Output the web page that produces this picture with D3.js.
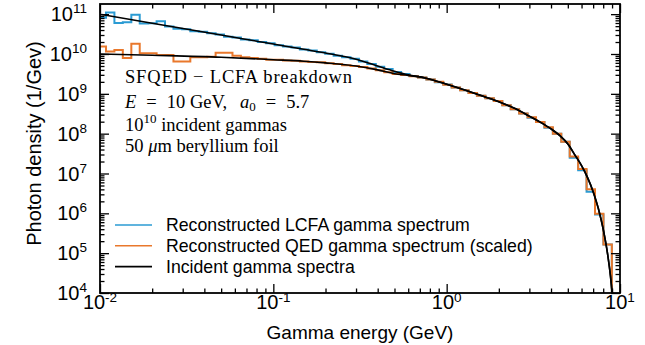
<!DOCTYPE html>
<html>
<head>
<meta charset="utf-8">
<script src="https://cdn.jsdelivr.net/npm/d3@7"></script>
<style>
  html, body { margin: 0; padding: 0; background: #fff; }
  svg { display: block; }
  .tick-label { font-family: "Liberation Sans", Arial, sans-serif; fill: #000; }
  .note { font-family: "Liberation Serif", "Times New Roman", serif; font-size: 18.5px; fill: #000; }
  .legend text { font-family: "Liberation Sans", Arial, sans-serif; font-size: 17.7px; fill: #000; }
</style>
</head>
<body>
<div id="chart"></div>
<script>
// Histogram bin edges (GeV), log spaced, read from the step positions
const binEdges = [
  0.00968, 0.01083, 0.01211, 0.01354, 0.01516, 0.01695, 0.01896, 0.02121, 0.02372, 0.02653,
  0.02968, 0.03319, 0.03713, 0.04153, 0.04645, 0.05195, 0.05811, 0.06500, 0.07270, 0.08132,
  0.09095, 0.1017, 0.1138, 0.1273, 0.1423, 0.1592, 0.1781, 0.1992, 0.2228, 0.2492,
  0.2787, 0.3117, 0.3487, 0.3900, 0.4362, 0.4879, 0.5458, 0.6105, 0.6828, 0.7637,
  0.8542, 0.9555, 1.069, 1.195, 1.337, 1.495, 1.673, 1.871, 2.093, 2.341,
  2.618, 2.929, 3.276, 3.664, 4.099, 4.584, 5.128, 5.735, 6.415, 7.175,
  8.025, 8.974, 10.04
];

// Reconstructed LCFA gamma spectrum (1/GeV), one value per bin
const lcfaRecon = [
  8.1e10, 1.1e11, 6.0e10, 6.3e10, 9.7e10, 5.8e10, 5.9e10, 6.6e10, 4.9e10, 4.3e10,
  4.2e10, 3.7e10, 3.6e10, 3.3e10, 3.1e10, 2.7e10, 2.6e10, 2.3e10, 2.2e10, 2.0e10,
  1.85e10, 1.66e10, 1.55e10, 1.45e10, 1.29e10, 1.23e10, 1.10e10, 1.02e10, 9.1e9, 8.3e9,
  7.6e9, 6.5e9, 5.6e9, 4.8e9, 4.2e9, 3.55e9, 3.16e9, 2.8e9, 2.57e9, 2.3e9,
  1.95e9, 1.72e9, 1.45e9, 1.23e9, 1.05e9, 8.9e8, 7.8e8, 6.6e8, 5.2e8, 4.1e8,
  3.2e8, 2.5e8, 1.95e8, 1.4e8, 1.0e8, 6.3e7, 2.5e7, 1.2e7, 3.5e6, 9.3e5,
  1.66e5, 0
];

// Reconstructed QED gamma spectrum (scaled), one value per bin
const qedRecon = [
  1.55e10, 1.15e10, 1.26e10, 7.9e9, 1.8e10, 1.05e10, 1.05e10, 9.5e9, 9.5e9, 6.5e9,
  6.5e9, 8.3e9, 8.3e9, 8.5e9, 1.07e10, 1.07e10, 9.1e9, 8.3e9, 7.9e9, 7.6e9,
  7.2e9, 7.2e9, 6.9e9, 6.8e9, 6.5e9, 6.3e9, 6.2e9, 5.9e9, 5.6e9, 5.25e9,
  5.0e9, 4.7e9, 4.3e9, 3.9e9, 3.5e9, 3.16e9, 2.95e9, 2.75e9, 2.57e9, 2.3e9,
  2.0e9, 1.7e9, 1.45e9, 1.23e9, 1.05e9, 8.9e8, 7.8e8, 6.6e8, 5.2e8, 4.1e8,
  3.2e8, 2.6e8, 1.95e8, 1.45e8, 1.0e8, 6.3e7, 2.66e7, 1.29e7, 4.0e6, 9.7e5,
  1.66e5, 0
];

// Incident gamma spectra, sampled along the black curves
const incidentEnergy = [
  0.01, 0.02, 0.05, 0.1, 0.15, 0.2, 0.3, 0.4, 0.5, 0.6,
  0.75, 1.0, 1.5, 2.0, 2.5, 3.0, 3.5, 4.0, 4.5, 5.0,
  5.5, 6.0, 6.5, 7.0, 7.5, 8.0, 8.5, 8.8, 9.0, 9.1
];
const incidentLcfa = [
  1.0e11, 5.94e10, 2.99e10, 1.78e10, 1.31e10, 1.06e10, 7.4e9, 5.0e9, 3.7e9, 3.0e9,
  2.5e9, 1.74e9, 9.8e8, 6.3e8, 4.2e8, 2.75e8, 1.9e8, 1.32e8, 8.9e7, 5.5e7,
  2.9e7, 1.58e7, 7.9e6, 3.5e6, 1.32e6, 4.0e5, 8.9e4, 2.8e4, 1.0e4, 5.0e3
];
const incidentQed = [
  1.0e10, 9.3e9, 8.3e9, 7.2e9, 6.6e9, 6.0e9, 5.0e9, 4.0e9, 3.2e9, 2.9e9,
  2.5e9, 1.74e9, 9.8e8, 6.3e8, 4.2e8, 2.75e8, 1.9e8, 1.32e8, 8.9e7, 5.5e7,
  2.9e7, 1.58e7, 7.9e6, 3.5e6, 1.32e6, 4.0e5, 8.9e4, 2.8e4, 1.0e4, 5.0e3
];

const xMajor = [0.01, 0.1, 1, 10];
const xMajorExp = ['-2', '-1', '0', '1'];
const yMajor = [1e4, 1e5, 1e6, 1e7, 1e8, 1e9, 1e10, 1e11];
const yMajorExp = ['4', '5', '6', '7', '8', '9', '10', '11'];

const legendLabels = [
  'Reconstructed LCFA gamma spectrum',
  'Reconstructed QED gamma spectrum (scaled)',
  'Incident gamma spectra'
];
const colors = ['#2b9bd3', '#e9782c', '#000000'];

const width = 645;
const height = 345;
const margin = { top: 4, right: 25, bottom: 52, left: 100 };
const plotW = width - margin.left - margin.right;
const plotH = height - margin.top - margin.bottom;

const svg = d3.select('#chart').append('svg')
  .attr('width', width)
  .attr('height', height);

const x = d3.scaleLog().domain([0.01, 10]).range([0, plotW]);
const y = d3.scaleLog().domain([1e4, 1.8e11]).range([plotH, 0]);

const g = svg.append('g').attr('transform', `translate(${margin.left},${margin.top})`);

g.append('defs').append('clipPath').attr('id', 'clip')
  .append('rect').attr('width', plotW).attr('height', plotH);

// minor tick values (2..9 in each decade)
const xMinor = [];
for (let e = -2; e < 1; e++) for (let m = 2; m <= 9; m++) xMinor.push(m * Math.pow(10, e));
const yMinor = [];
for (let e = 4; e < 11; e++) for (let m = 2; m <= 9; m++) yMinor.push(m * Math.pow(10, e));

const lines = g.append('g').attr('clip-path', 'url(#clip)');

// step histogram
const stepLine = d3.line()
  .curve(d3.curveStepAfter)
  .x(d => x(d[0]))
  .y(d => d[1] > 0 ? y(d[1]) : plotH + 20);

function histPoints(values) {
  const pts = values.map((v, i) => [binEdges[i], v]);
  pts.push([binEdges[values.length], values[values.length - 1]]);
  return pts;
}

lines.append('path')
  .attr('d', stepLine(histPoints(lcfaRecon)))
  .attr('fill', 'none')
  .attr('stroke', colors[0])
  .attr('stroke-width', 2);

lines.append('path')
  .attr('d', stepLine(histPoints(qedRecon)))
  .attr('fill', 'none')
  .attr('stroke', colors[1])
  .attr('stroke-width', 2);

const smooth = d3.line()
  .curve(d3.curveMonotoneX)
  .x(d => x(d[0]))
  .y(d => y(d[1]));

[incidentLcfa, incidentQed].forEach(series => {
  lines.append('path')
    .attr('d', smooth(incidentEnergy.map((e, i) => [e, series[i]])))
    .attr('fill', 'none')
    .attr('stroke', colors[2])
    .attr('stroke-width', 1.6);
});

// ticks, inward on all four sides
function ticks(axis, vals, size, transform) {
  const a = g.append('g').attr('transform', transform)
    .call(axis.tickValues(vals).tickSize(size).tickFormat(''));
  a.select('.domain').remove();
  a.selectAll('line').attr('stroke', '#000').attr('stroke-width', 1.3);
}
ticks(d3.axisBottom(x), xMajor, -9, `translate(0,${plotH})`);
ticks(d3.axisBottom(x), xMinor, -4.5, `translate(0,${plotH})`);
ticks(d3.axisTop(x), xMajor, -9, 'translate(0,0)');
ticks(d3.axisTop(x), xMinor, -4.5, 'translate(0,0)');
ticks(d3.axisLeft(y), yMajor, -9, 'translate(0,0)');
ticks(d3.axisLeft(y), yMinor, -4.5, 'translate(0,0)');
ticks(d3.axisRight(y), yMajor, -9, `translate(${plotW},0)`);
ticks(d3.axisRight(y), yMinor, -4.5, `translate(${plotW},0)`);

g.append('rect')
  .attr('width', plotW).attr('height', plotH)
  .attr('fill', 'none').attr('stroke', '#000').attr('stroke-width', 1.8);

// tick labels
xMajor.forEach((v, i) => {
  const t = g.append('text').attr('class', 'tick-label')
    .attr('x', x(v)).attr('y', plotH + 15.5)
    .attr('text-anchor', 'middle');
  t.append('tspan').attr('font-size', 20).text('10');
  t.append('tspan').attr('font-size', 13.5).attr('dy', -7).text(xMajorExp[i]);
});

yMajor.forEach((v, i) => {
  const t = g.append('text').attr('class', 'tick-label')
    .attr('x', -13).attr('y', y(v) + 7)
    .attr('text-anchor', 'end');
  t.append('tspan').attr('font-size', 20).text('10');
  t.append('tspan').attr('font-size', 13.5).attr('dy', -8).text(yMajorExp[i]);
});

// axis titles
g.append('text').attr('class', 'tick-label')
  .attr('x', plotW / 2).attr('y', plotH + 46)
  .attr('text-anchor', 'middle').attr('font-size', 19)
  .text('Gamma energy (GeV)');

g.append('text').attr('class', 'tick-label')
  .attr('transform', `translate(${-59},${plotH / 2 - 5}) rotate(-90)`)
  .attr('text-anchor', 'middle').attr('font-size', 20)
  .text('Photon density (1/Gev)');

// annotation
const note = g.append('g').attr('class', 'note');
const n1 = note.append('text').attr('x', 25).attr('y', 79)
  .attr('textLength', 227).attr('lengthAdjust', 'spacing');
n1.text('SFQED \u2212 LCFA breakdown');

// math-style spacing around "=" as in the original
const n2 = note.append('text').attr('x', 25).attr('y', 104);
n2.append('tspan').attr('font-style', 'italic').text('E');
n2.append('tspan').attr('dx', 10).text('=');
n2.append('tspan').attr('dx', 10).text('10 GeV,');
n2.append('tspan').attr('dx', 13).attr('font-style', 'italic').text('a');
n2.append('tspan').attr('font-size', 13).attr('dy', 3).text('0');
n2.append('tspan').attr('dx', 10).attr('dy', -3).text('=');
n2.append('tspan').attr('dx', 10).text('5.7');

const n3 = note.append('text').attr('x', 25).attr('y', 126.7);
n3.append('tspan').text('10');
n3.append('tspan').attr('font-size', 13).attr('dy', -8).text('10');
n3.append('tspan').attr('dy', 8).text(' incident gammas');

const n4 = note.append('text').attr('x', 25).attr('y', 147.7);
n4.append('tspan').text('50 ');
n4.append('tspan').attr('font-style', 'italic').text('\u03bc');
n4.append('tspan').text('m beryllium foil');

// legend
const legend = g.append('g').attr('class', 'legend');
legendLabels.forEach((label, i) => {
  const ly = 221 + i * 20.8;
  legend.append('line')
    .attr('x1', 15).attr('x2', 52).attr('y1', ly).attr('y2', ly)
    .attr('stroke', colors[i]).attr('stroke-width', 1.6);
  legend.append('text').attr('x', 66).attr('y', ly + 6).text(label);
});
</script>
</body>
</html>
